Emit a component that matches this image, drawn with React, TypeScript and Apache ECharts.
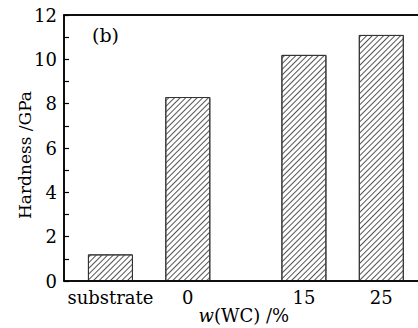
import React, { useEffect, useRef } from "react";
import * as echarts from "echarts";

const positions = [-10, 0, 15, 25];
const labels = ["substrate", "0", "15", "25"];
const hardness = [1.2, 8.3, 10.2, 11.1];
const yTicks = [0, 2, 4, 6, 8, 10, 12];

const FONT = "DejaVu Serif";

export default function App() {
  const ref = useRef<HTMLDivElement>(null);
  useEffect(() => {
    if (!ref.current) return;
    const chart = echarts.init(ref.current, null, { renderer: "svg" });
    const labelMap: Record<string, string> = {};
    positions.forEach((p, i) => (labelMap[String(p)] = labels[i]));
    chart.setOption({
      animation: false,
      backgroundColor: "#fff",
      grid: {
        left: 64,
        top: 15,
        bottom: 47,
        right: -2,
        containLabel: false,
        outerBoundsMode: "none",
        show: true,
        borderColor: "#000",
        borderWidth: 1.5,
        backgroundColor: "transparent",
        z: 3,
      },
      xAxis: [
        {
          type: "value",
          position: "bottom",
          min: -16,
          max: 30,
          axisLine: { show: true, onZero: false, lineStyle: { color: "#000", width: 1.5 } },
          axisTick: { show: false },
          splitLine: { show: false },
          axisLabel: {
            customValues: positions,
            formatter: (v: number) => labelMap[String(v)] ?? "",
            color: "#000",
            fontFamily: FONT,
            fontSize: 18,
            margin: 7,
          },
        },
        {
          type: "value",
          position: "top",
          min: -16,
          max: 30,
          axisLine: { show: true, onZero: false, lineStyle: { color: "#000", width: 1.5 } },
          axisTick: { show: false },
          axisLabel: { show: false },
          splitLine: { show: false },
        },
      ],
      yAxis: [
        {
          type: "value",
          position: "left",
          min: 0,
          max: 12,
          interval: 2,
          axisLine: { show: true, onZero: false, lineStyle: { color: "#000", width: 1.5 } },
          axisTick: { show: false },
          splitLine: { show: false },
          axisLabel: {
            color: "#000",
            fontFamily: FONT,
            fontSize: 18,
            margin: 7,
            formatter: (v: number) => (yTicks.includes(v) ? String(v) : ""),
          },
        },
        {
          type: "value",
          position: "right",
          offset: -356,
          min: 0,
          max: 12,
          interval: 2,
          axisLine: { show: false, onZero: false },
          axisTick: { show: true, inside: false, length: 5, lineStyle: { color: "#000", width: 1.2 } },
          minorTick: { show: true, splitNumber: 2, length: 5, lineStyle: { color: "#000", width: 1.2 } },
          splitLine: { show: false },
          axisLabel: { show: false },
        },
      ],
      graphic: [
        {
          type: "text",
          left: 92,
          top: 25,
          style: { text: "(b)", fontFamily: FONT, fontSize: 19, fill: "#000" },
        },
        {
          type: "text",
          x: 25,
          y: 155,
          rotation: Math.PI / 2,
          style: {
            text: "Hardness /GPa",
            fontFamily: FONT,
            fontSize: 17,
            fill: "#000",
            align: "center",
            verticalAlign: "middle",
          },
        },
        {
          type: "text",
          x: 214,
          y: 315,
          style: {
            text: "w",
            fontFamily: FONT,
            fontStyle: "italic",
            fontSize: 18,
            fill: "#000",
            align: "right",
            verticalAlign: "middle",
          },
        },
        {
          type: "text",
          x: 214,
          y: 315,
          style: {
            text: "(WC) /%",
            fontFamily: FONT,
            fontSize: 18,
            fill: "#000",
            align: "left",
            verticalAlign: "middle",
          },
        },
      ],
      series: [
        {
          type: "bar",
          xAxisIndex: 0,
          yAxisIndex: 0,
          barWidth: 45,
          data: positions.map((p, i) => [p, hardness[i]]),
          itemStyle: {
            color: "#fff",
            borderColor: "#333",
            borderWidth: 1,
            decal: {
              symbol: "rect",
              symbolSize: 1,
              color: "#555",
              backgroundColor: "#fff",
              dashArrayX: [1, 0],
              dashArrayY: [1, 3],
              rotation: -Math.PI / 4,
            },
          },
        },
      ],
    });
    return () => chart.dispose();
  }, []);
  return <div ref={ref} style={{ width: 418, height: 328, position: "absolute", left: 0, top: 0 }} />;
}
